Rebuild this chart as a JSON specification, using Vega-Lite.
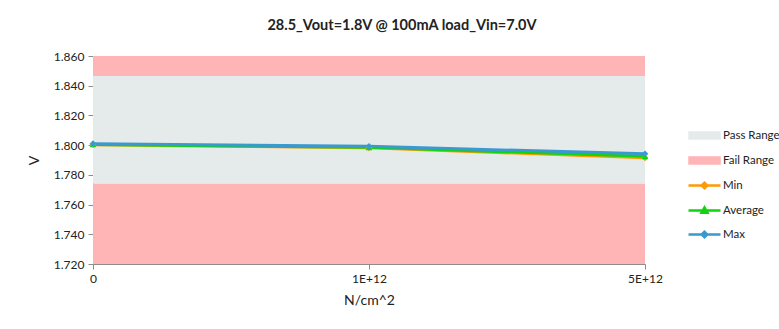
{
  "$schema": "https://vega.github.io/schema/vega-lite/v6.json",
  "width": 552,
  "height": 208,
  "autosize": {"type": "none"},
  "padding": {"left": 93, "top": 56, "right": 134, "bottom": 65},
  "background": "white",
  "config": {
    "font": "Lato",
    "view": {"stroke": null},
    "axis": {"labelFont": "Lato", "titleFont": "Lato", "labelColor": "#222", "titleColor": "#222", "domainColor": "#8c8c8c", "tickColor": "#8c8c8c", "grid": false, "labelFontSize": 12, "titleFontSize": 14, "titleFontWeight": "normal", "labelOverlap": false}
  },
  "title": {"text": "28.5_Vout=1.8V @ 100mA load_Vin=7.0V", "fontSize": 14.5, "fontWeight": "bold", "font": "Lato", "color": "#222", "anchor": "middle", "dx": 33, "offset": 17},
  "datasets": {
    "bands": [
      {"series": "Fail Range", "lo": 1.8465, "hi": 1.86},
      {"series": "Pass Range", "lo": 1.774, "hi": 1.8465},
      {"series": "Fail Range", "lo": 1.72, "hi": 1.774}
    ],
    "meas": [
      {"series": "Min", "x": "0", "v": 1.8003},
      {"series": "Min", "x": "1E+12", "v": 1.7982},
      {"series": "Min", "x": "5E+12", "v": 1.7915},
      {"series": "Average", "x": "0", "v": 1.8005},
      {"series": "Average", "x": "1E+12", "v": 1.7985},
      {"series": "Average", "x": "5E+12", "v": 1.7925},
      {"series": "Max", "x": "0", "v": 1.8010},
      {"series": "Max", "x": "1E+12", "v": 1.7992},
      {"series": "Max", "x": "5E+12", "v": 1.7942}
    ]
  },
  "layer": [
    {
      "data": {"name": "bands"},
      "mark": {"type": "rect"},
      "encoding": {
        "y": {"field": "lo", "type": "quantitative", "scale": {"domain": [1.72, 1.86], "nice": false, "zero": false}, "axis": {"title": "V", "values": [1.72, 1.74, 1.76, 1.78, 1.8, 1.82, 1.84, 1.86], "format": ".3f", "titlePadding": 12, "titleAngle": -90, "tickSize": 5, "labelPadding": 4, "labelOverlap": false}},
        "y2": {"field": "hi"},
        "color": {
          "field": "series", "type": "nominal",
          "scale": {"domain": ["Pass Range", "Fail Range", "Min", "Average", "Max"], "range": ["#E5EBEB", "#FFB5B5", "#FF9A00", "#11D411", "#3A99CF"]},
          "legend": {
            "title": null, "orient": "none", "legendX": 600, "legendY": 68,
            "symbolSize": 400, "labelFontSize": 11.5, "labelFont": "Lato", "labelColor": "#222",
            "rowPadding": 5, "labelOffset": 7, "padding": 0,
            "encode": {"symbols": {"update": {
              "shape": {"signal": "datum.value == 'Pass Range' || datum.value == 'Fail Range' ? 'M-1.5,-0.3H1.5V0.3H-1.5Z' : datum.value == 'Average' ? 'M-1.6,0H1.6M-0.3,0.22L0,-0.3L0.3,0.22Z' : 'M-1.6,0H1.6M-0.28,0L0,-0.28L0.28,0L0,0.28Z'"},
              "fill": {"signal": "scale('color', datum.value)"},
              "stroke": {"signal": "scale('color', datum.value)"},
              "strokeWidth": {"value": 2.5},
              "opacity": {"value": 1},
              "fillOpacity": {"value": 1},
              "strokeOpacity": {"value": 1}
            }}}
          }
        }
      }
    },
    {
      "data": {"name": "meas"},
      "mark": {"type": "line", "strokeWidth": 3},
      "encoding": {
        "x": {"field": "x", "type": "ordinal", "sort": ["0", "1E+12", "5E+12"], "scale": {"type": "point", "padding": 0}, "axis": {"title": "N/cm^2", "labelAngle": 0, "titlePadding": 9, "tickSize": 5, "labelPadding": 4}},
        "y": {"field": "v", "type": "quantitative", "axis": {"title": "V", "values": [1.72, 1.74, 1.76, 1.78, 1.8, 1.82, 1.84, 1.86], "format": ".3f", "titlePadding": 12, "titleAngle": -90, "tickSize": 5, "labelPadding": 4, "labelOverlap": false}},
        "color": {"field": "series", "type": "nominal"},
        "order": {"field": "x"}
      }
    },
    {
      "data": {"name": "meas"},
      "mark": {"type": "point", "filled": true, "opacity": 1, "size": 45},
      "encoding": {
        "x": {"field": "x", "type": "ordinal", "sort": ["0", "1E+12", "5E+12"]},
        "y": {"field": "v", "type": "quantitative", "axis": {"title": "V", "values": [1.72, 1.74, 1.76, 1.78, 1.8, 1.82, 1.84, 1.86], "format": ".3f", "titlePadding": 12, "titleAngle": -90, "tickSize": 5, "labelPadding": 4, "labelOverlap": false}},
        "color": {"field": "series", "type": "nominal"},
        "shape": {"field": "series", "type": "nominal", "scale": {"domain": ["Min", "Average", "Max"], "range": ["diamond", "triangle-up", "diamond"]}, "legend": null}
      }
    }
  ]
}
